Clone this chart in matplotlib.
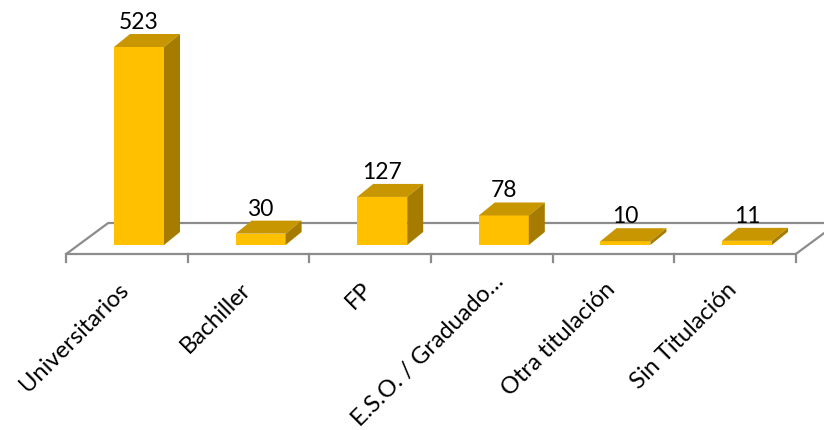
import numpy as np
import matplotlib
matplotlib.use('Agg')
import matplotlib.pyplot as plt
from matplotlib.patches import Polygon

# DATA

categories = ['Universitarios', 'Bachiller', 'FP', 'E.S.O. / Graduado…',
              'Otra titulación', 'Sin Titulación']
values = [523, 30, 127, 78, 10, 11]

# COLOURS

c_front = '#FFC000'
c_top = '#C79600'
c_side = '#A67C00'
c_floor = '#8C8C8C'

plt.rcParams['font.family'] = ['Lato', 'DejaVu Sans']

# LAYOUT (pixels of the 824x431 canvas)

W, H = 824, 431
slot = 121.6          # width of one category on the floor
x0_px = 139           # centre of first bar front face
base_px = 246         # height of value 0 on the bar front plane
ppu = 198 / 523       # pixels per unit

fig = plt.figure(figsize=(W / 100, H / 100), dpi=100)
ax = fig.add_axes([0, 0, 1, 1])
ax.set_xlim(-x0_px / slot, (W - x0_px) / slot)
ax.set_ylim(-(H - base_px) / ppu, base_px / ppu)
ax.axis('off')

def px(dx, dy):
    # pixel offset -> data offset (dy positive = upwards)
    return dx / slot, dy / ppu

n = len(categories)
xs = np.arange(n)

# floor
fdx, fdy = px(-12, -9)    # front edge relative to bar plane
bdx, bdy = px(30, 22)     # back edge relative to bar plane
left, right = -0.5, n - 0.5
fl = (left + fdx, fdy); fr = (right + fdx, fdy)
bl = (left + bdx, bdy); br = (right + bdx, bdy)
lw = 1.6
ax.plot([fl[0], fr[0]], [fl[1], fr[1]], color=c_floor, lw=lw, solid_capstyle='butt')
ax.plot([fl[0], bl[0], br[0]], [fl[1], bl[1], br[1]], color=c_floor, lw=lw)
ax.plot([fr[0], br[0]], [fr[1], br[1]], color=c_floor, lw=lw)

_, tick_len = px(0, 8)
for b in np.arange(n + 1) - 0.5:
    ax.plot([b + fdx, b + fdx], [fdy, fdy - tick_len], color=c_floor, lw=lw)

# bars
hw = 25 / slot
ddx, ddy = px(16, 13)
for x, v in zip(xs, values):
    x1, x2 = x - hw, x + hw
    ax.add_patch(Polygon([(x1, 0), (x2, 0), (x2, v), (x1, v)], closed=True,
                         facecolor=c_front, edgecolor='none', zorder=3))
    ax.add_patch(Polygon([(x1, v), (x2, v), (x2 + ddx, v + ddy), (x1 + ddx, v + ddy)],
                         closed=True, facecolor=c_top, edgecolor='none', zorder=3))
    ax.add_patch(Polygon([(x2, 0), (x2 + ddx, ddy), (x2 + ddx, v + ddy), (x2, v)],
                         closed=True, facecolor=c_side, edgecolor='none', zorder=3))
    _, gap = px(0, 6)
    ax.text(x, v + ddy + gap, str(v), ha='center', va='baseline',
            fontsize=16.5, color='black', zorder=4)

# category labels (the truncated one sits a bit higher, as in the original)
for x, lab in zip(xs, categories):
    if lab.endswith('…'):
        lx, ly = px(16, -16)
    else:
        lx, ly = px(6, -24)
    ax.text(x + fdx + lx, fdy + ly, lab, rotation=45, ha='right', va='top',
            fontsize=17, color='black')

fig.savefig('out.png', dpi=100)
